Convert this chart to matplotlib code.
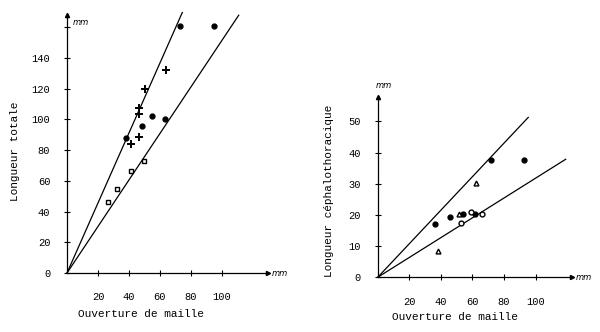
import matplotlib
matplotlib.use("Agg")
import matplotlib.pyplot as plt

# graphique de gauche : longueur totale
g_points_x = [72.9, 94.6, 55.0, 63.2, 48.2, 37.8]
g_points_y = [161, 161, 102, 100.5, 96, 87.7]
g_croix_x = [63.7, 50.3, 46.5, 46.2, 46.6, 41.3]
g_croix_y = [132, 119.7, 107.7, 103.4, 88.6, 84.2]
g_carres_x = [49.7, 41.5, 32.0, 26.2]
g_carres_y = [72.7, 66.4, 54.5, 46.2]
g_pentes = [2.28, 1.515]
g_fin_x = [74.4, 110.8]
g_yticks = [0, 20, 40, 60, 80, 100, 120, 140]
g_xticks = [20, 40, 60, 80, 100]

# graphique de droite : longueur cephalothoracique
d_points_x = [36.5, 45.6, 53.8, 61.8, 71.5, 92.6]
d_points_y = [17.1, 19.2, 20.4, 20.2, 37.7, 37.7]
d_cercles_x = [52.9, 59.2, 65.8]
d_cercles_y = [17.4, 20.8, 20.2]
d_triangles_x = [51.3, 62.0, 38.0]
d_triangles_y = [20.4, 30.1, 8.4]
d_pentes = [0.538, 0.318]
d_fin_x = [95.3, 119.0]
d_yticks = [0, 10, 20, 30, 40, 50]
d_xticks = [20, 40, 60, 80, 100]

police = "Liberation Mono"
fig = plt.figure(figsize=(6, 3.32), dpi=100)

def axes_fleches(ax, xmax, ymax):
    for s in ["top", "right"]:
        ax.spines[s].set_visible(False)
    for s in ["left", "bottom"]:
        ax.spines[s].set_linewidth(0.9)
    ax.set_xlim(0, xmax)
    ax.set_ylim(0, ymax)
    ax.plot(1, 0, ">k", ms=3, transform=ax.transAxes, clip_on=False)
    ax.plot(0, 1, "^k", ms=3, transform=ax.transAxes, clip_on=False)
    ax.tick_params(direction="inout", length=4, width=0.8, labelsize=7.5)
    ax.tick_params(axis="x", pad=12)
    ax.tick_params(axis="y", pad=10)
    for t in ax.get_xticklabels() + ax.get_yticklabels():
        t.set_fontfamily(police)

# --- gauche
ax1 = fig.add_axes([67/600, (332-273)/332, 201/600, 258/332])
for p, fx in zip(g_pentes, g_fin_x):
    ax1.plot([0, fx], [0, p*fx], color="black", lw=0.9, clip_on=False)
ax1.plot(g_points_x, g_points_y, "o", color="black", ms=3.5, clip_on=False)
ax1.plot(g_croix_x, g_croix_y, "+", color="black", ms=5.5, mew=1.4)
ax1.plot(g_carres_x, g_carres_y, "s", mfc="white", mec="black", ms=3.5, mew=1)
ax1.set_xticks(g_xticks)
ax1.set_yticks(g_yticks + [160], g_yticks + [""])
axes_fleches(ax1, 129.7, 168)
ax1.set_xlabel("Ouverture de maille", fontfamily=police, fontsize=8)
ax1.set_ylabel("Longueur totale", fontfamily=police, fontsize=8)
ax1.xaxis.set_label_coords(0.37, -0.14)
ax1.yaxis.set_label_coords(-0.235, 0.47)
ax1.text(1.02, 0, "mm", transform=ax1.transAxes, fontsize=6, style="italic",
         va="center")
ax1.text(0.03, 0.97, "mm", transform=ax1.transAxes, fontsize=6, style="italic",
         va="center")

# --- droite
ax2 = fig.add_axes([377.7/600, (332-277.3)/332, 194/600, 180.6/332])
for p, fx in zip(d_pentes, d_fin_x):
    ax2.plot([0, fx], [0, p*fx], color="black", lw=0.9, clip_on=False)
ax2.plot(d_points_x, d_points_y, "o", color="black", ms=3.5)
ax2.plot(d_cercles_x, d_cercles_y, "o", mfc="white", mec="black", ms=3.5, mew=1)
ax2.plot(d_triangles_x, d_triangles_y, "^", mfc="white", mec="black", ms=3.5, mew=1)
ax2.set_xticks(d_xticks)
ax2.set_yticks(d_yticks)
axes_fleches(ax2, 122.8, 57.9)
ax2.set_xlabel("Ouverture de maille", fontfamily=police, fontsize=8)
ax2.set_ylabel("Longueur céphalothoracique", fontfamily=police, fontsize=8)
ax2.xaxis.set_label_coords(0.4, -0.19)
ax2.yaxis.set_label_coords(-0.224, 0.48)
ax2.text(1.02, 0, "mm", transform=ax2.transAxes, fontsize=6, style="italic",
         va="center")
ax2.text(-0.01, 1.06, "mm", transform=ax2.transAxes, fontsize=6, style="italic",
         va="center")

fig.savefig("out.png", dpi=100)
